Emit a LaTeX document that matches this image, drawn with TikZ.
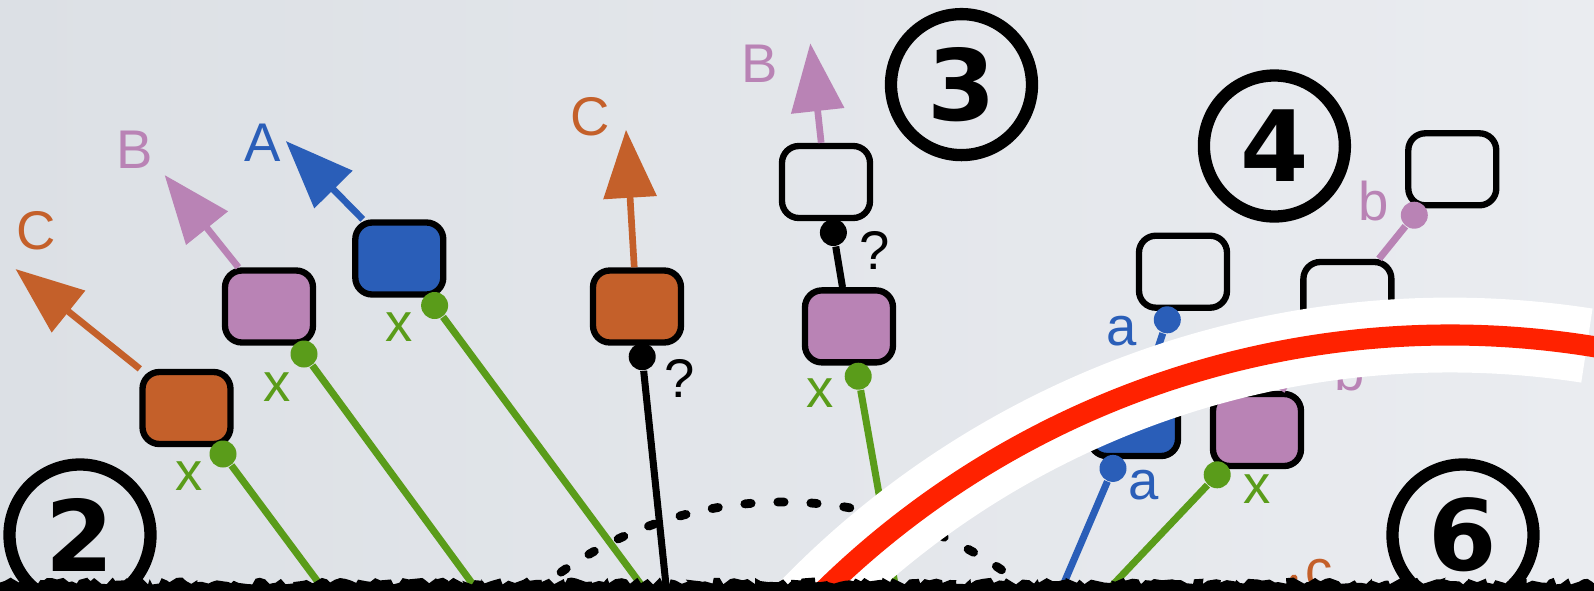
\documentclass[tikz,border=0pt]{standalone}
\usepackage{fontspec}
\setmainfont{Liberation Sans}
\newfontfamily\numfont{DejaVu Sans}
\usepackage{xcolor}
\usetikzlibrary{arrows.meta, positioning, calc, decorations.pathmorphing}

\definecolor{bgleft}{RGB}{220,224,229}
\definecolor{bgright}{RGB}{234,236,240}
\definecolor{corange}{RGB}{196,96,42}
\definecolor{cpink}{RGB}{185,131,181}
\definecolor{cblue}{RGB}{42,94,184}
\definecolor{cgreen}{RGB}{90,156,26}
\definecolor{cred}{RGB}{255,34,0}

\begin{document}
\begin{tikzpicture}[
    x=0.1mm, y=0.1mm,
    font=\fontsize{15.5}{18}\selectfont,
    cell/.style={draw=black, line width=1.8pt, rounded corners=4.8pt, minimum width=8.8mm, minimum height=7.2mm, inner sep=0pt},
    knob/.style={circle, fill=#1, minimum size=2.7mm, inner sep=0pt},
    wire/.style={draw=#1, line width=2pt},
    yield/.style={draw=#1, line width=1.9pt, -{Triangle[length=6.8mm, width=5.2mm]}},
    stage/.style={circle, draw=black, line width=3.5pt, minimum size=14.1mm, inner sep=0pt, font=\numfont\bfseries\fontsize{28}{30}\selectfont}
]
    \pgfmathsetseed{7}

    % --- Background ---
    \useasboundingbox (0,0) rectangle (1594,590);
    \clip (0,0) rectangle (1594,590);
    \shade[left color=bgleft, right color=bgright] (0,0) rectangle (1594,590);

    % --- Dotted arc ---
    \draw[line width=2.5pt, dash pattern=on 1.8pt off 7.6pt, line cap=round] (783,-298) ++(130:386) arc[start angle=130, end angle=50, radius=386];

    % --- Cells ---
    \node[cell, fill=corange] (oL) at (186.5,182) {};
    \node[cell, fill=cpink] (pL) at (269,283.5) {};
    \node[cell, fill=cblue] (bL) at (399.3,331.5) {};
    \node[cell, fill=corange] (oM) at (637,283.5) {};
    \node[cell, fill=cpink] (pM) at (849,263.6) {};
    \node[cell] (wM) at (826,408) {};
    \node[cell, fill=cblue] (bR) at (1134,170) {};
    \node[cell, fill=cpink] (pR) at (1257,160) {};
    \node[cell] (wA) at (1183,318.3) {};
    \node[cell] (wB) at (1347.4,292) {};
    \node[cell] (wC) at (1452.3,420.7) {};

    % --- Inputs ---
    \node[knob=cgreen] (g1) at (223,136) {};
    \node[knob=cgreen] (g2) at (304,236) {};
    \node[knob=cgreen] (g3) at (434.6,284.5) {};
    \node[knob=black] (k1) at (642.2,233.3) {};
    \node[knob=cgreen] (g4) at (858.2,213.8) {};
    \node[knob=black] (k2) at (833.4,357.5) {};
    \node[knob=cblue] (a1) at (1167.3,270.2) {};
    \node[knob=cblue] (a2) at (1113,121.6) {};
    \node[knob=cpink] (b1) at (1414.3,374.8) {};
    \node[knob=cpink] (b2) at (1302,232) {};
    \node[knob=cgreen] (g5) at (1217.2,115.2) {};

    \coordinate (g1end) at (324,0);
    \coordinate (g2end) at (477,0);
    \coordinate (g3end) at (645,0);
    \coordinate (k1end) at (666.5,0);
    \coordinate (g4end) at (896,0);
    \coordinate (a2end) at (1061,0);
    \coordinate (g5end) at (1108,0);

    \draw[wire=cgreen] (g1) -- (g1end);
    \draw[wire=cgreen] (g2) -- (g2end);
    \draw[wire=cgreen] (g3) -- (g3end);
    \draw[wire=black] (k1) -- (k1end);
    \draw[wire=cgreen] (g4) -- (g4end);
    \draw[wire=black] (k2) -- (pM);
    \draw[wire=cblue] (a1) -- (bR);
    \draw[wire=cblue] (a2) -- (a2end);
    \draw[wire=cpink] (b1) -- (wB);
    \draw[wire=cpink] (b2) -- (pR);
    \draw[wire=cgreen] (g5) -- (g5end);
    \draw[wire=corange, line cap=round] (1286,-8) -- (1294,12);

    % --- Outputs ---
    \coordinate (oLtip) at (15.5,321);
    \coordinate (pLtip) at (164.6,415);
    \coordinate (bLtip) at (285.8,449);
    \coordinate (oMtip) at (626,460.2);
    \coordinate (wMtip) at (810.3,546.7);

    \draw[yield=corange] (oL.140) -- (oLtip);
    \draw[yield=cpink] (pL.128) -- (pLtip);
    \draw[yield=cblue] (bL.133) -- (bLtip);
    \draw[yield=corange] (oM.94) -- (oMtip);
    \draw[yield=cpink] (wM.97) -- (wMtip);

    % --- Labels ---
    \node[text=corange] (lC1) at (36,359) {C};
    \node[text=cpink] (lB1) at (135,440) {B};
    \node[text=cblue] (lA1) at (262.7,447) {A};
    \node[text=corange] (lC2) at (590.6,473.4) {C};
    \node[text=cpink] (lB2) at (759.3,526) {B};
    \node[text=cgreen] (lx1) at (189,114) {x};
    \node[text=cgreen] (lx2) at (277,202.5) {x};
    \node[text=cgreen] (lx3) at (399.4,263) {x};
    \node[text=cgreen] (lx4) at (820.6,197) {x};
    \node[text=cgreen] (lx5) at (1257.5,101) {x};
    \node (lq1) at (679.4,212) {?};
    \node (lq2) at (874.7,340) {?};
    \node[text=cblue] (la1) at (1122,259) {a};
    \node[text=cblue] (la2) at (1143.7,104.7) {a};
    \node[text=cpink] (lb1) at (1373.7,389) {b};
    \node[text=cpink] (lb2) at (1350,219) {b};
    \node[text=corange] (lc) at (1319,16) {c};

    % --- Band ---
    \draw[white, line width=21.3pt] (1450,-640) ++(140:895) arc[start angle=140, end angle=81.2, radius=895];
    \draw[cred, line width=6pt] (1450,-640) ++(140:895) arc[start angle=140, end angle=78, radius=895];

    % --- Stages ---
    \node[stage] (s2) at (80,55) {2};
    \node[stage] (s3) at (961.5,505.4) {3};
    \node[stage] (s4) at (1274.4,444) {4};
    \node[stage] (s6) at (1463,55) {6};

    % --- Torn edge ---
    \fill[black] (-10,-10) -- (-10,9) decorate[decoration={random steps, segment length=1.3pt, amplitude=1pt}] {-- (1604,9)} -- (1604,-10) -- cycle;
\end{tikzpicture}
\end{document}
